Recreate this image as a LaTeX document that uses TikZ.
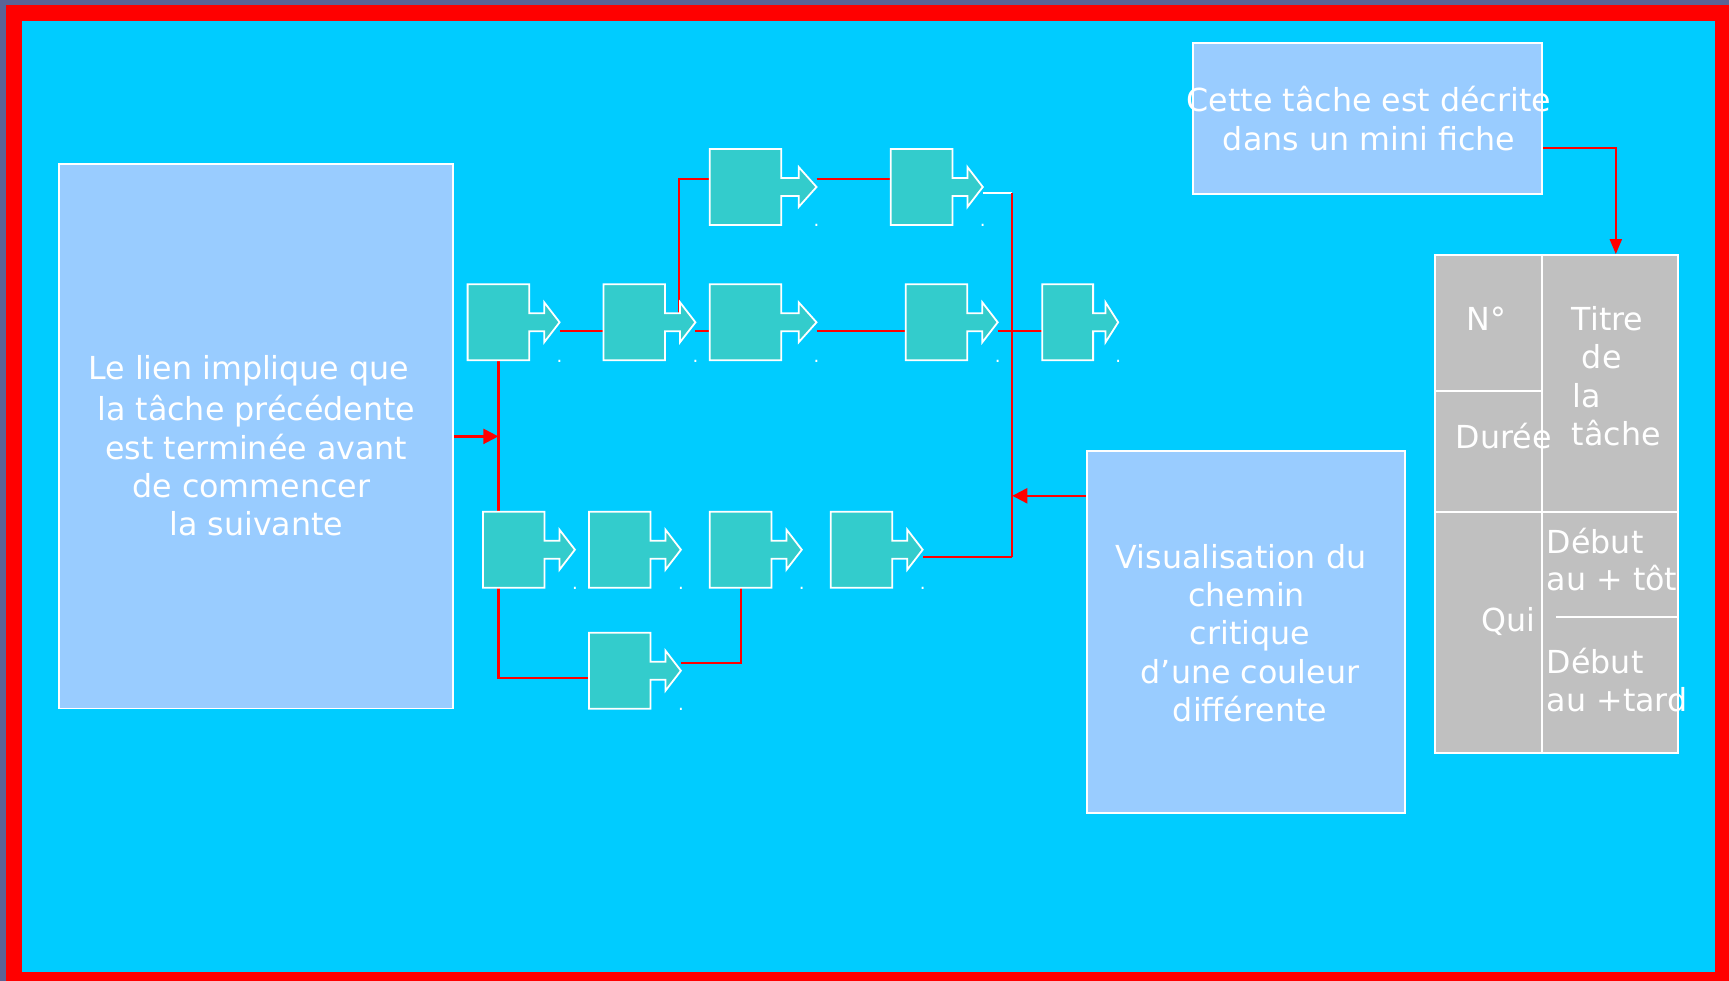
\documentclass[tikz,border=0pt]{standalone}
\usepackage{fontspec}
\setmainfont{DejaVu Sans}
\usetikzlibrary{arrows.meta,calc}
\definecolor{bgcyan}{HTML}{00CCFF}
\definecolor{boxblue}{HTML}{99CCFF}
\definecolor{taskteal}{HTML}{33CCCC}
\definecolor{tgray}{HTML}{C0C0C0}
\definecolor{outerc}{HTML}{5A6496}
\definecolor{frred}{HTML}{FF0000}
\pgfdeclarelayer{back}
\pgfdeclarelayer{bg}
\pgfsetlayers{back,bg,main}
% task shape: name, left x, top y, horizontal scale
\newcommand\mktask[4]{%
  \pgfmathsetmacro\tw{61.6*#4}%
  \pgfmathsetmacro\ts{15*#4}%
  \pgfmathsetmacro\th{15.4*#4}%
  \draw[taskshape] (#2,#3) -- ++(\tw,0) -- ++(0,29) -- ++(\ts,0) -- ++(0,-11)
     -- ++(\th,20) -- ++(-\th,20) -- ++(0,-11) -- ++(-\ts,0) -- ++(0,29)
     -- ++(-\tw,0) -- cycle;
  \node[taskbox, minimum width=\tw pt] (#1) at (#2+\tw/2,#3+38) {};
  \coordinate (#1tip) at (#2+\tw+\ts+\th,#3+38);
  \coordinate (#1hb) at (#2+\tw+\ts,#3+29);
  \node[dotlbl] (#1dot) at (#2+\tw+\ts+\th,#3+77.8) {.};
}
\begin{document}
\begin{tikzpicture}[x=1pt,y=-1pt,
  conn/.style={draw=frred, line width=2.2pt},
  wconn/.style={draw=white, line width=2pt},
  redtip/.style={-{Triangle[length=15pt,width=15pt]}},
  redtipn/.style={-{Triangle[length=15pt,width=12pt]}},
  infobox/.style={draw=white, fill=boxblue, line width=1.8pt, inner sep=0, rectangle},
  taskshape/.style={draw=white, fill=taskteal, line width=1.8pt, line join=miter},
  taskbox/.style={rectangle, inner sep=0, minimum height=76pt},
  txt/.style={text=white, inner sep=0, anchor=base, font=\fontsize{31.7pt}{38.3pt}\selectfont},
  txtl/.style={txt, anchor=base west},
  dotlbl/.style={text=white, inner sep=0, anchor=base, font=\fontsize{18pt}{18pt}\selectfont},
  gridline/.style={draw=white, line width=1.8pt}
]
\useasboundingbox (0,0) rectangle (1729,981);
\begin{pgfonlayer}{back}
  \fill[outerc] (0,0) rectangle (1729,981);
  \fill[frred] (6,5) rectangle (1729,981);
  \fill[bgcyan] (22,21) rectangle (1715,972);
\end{pgfonlayer}

% explanatory boxes
\node[infobox, minimum width=394pt, minimum height=544.2pt] (lbox) at (256.3,436.4) {};
\node[txt] (ltext) at (256.3,379.3) {\begin{tabular}[t]{@{}c@{}}Le lien implique que\kern15pt\\[3.4pt]
  la tâche précédente\\ est terminée avant\\ de commencer\kern10pt\\ la suivante\end{tabular}};

\node[infobox, minimum width=349pt, minimum height=150.7pt] (cette) at (1367.8,118.65) {};
\node[txt, font=\fontsize{31.7pt}{39pt}\selectfont] (ctext) at (1369,111.7) {\begin{tabular}[t]{@{}c@{}}Cette tâche est décrite\\ dans un mini fiche\end{tabular}};

\node[infobox, minimum width=317.7pt, minimum height=362.6pt] (vis) at (1246.15,632) {};
\node[txt] (vtext) at (1250,568.3) {\begin{tabular}[t]{@{}c@{}}Visualisation du\kern18pt\\ chemin\kern7pt\\ critique\\ d’une couleur\\ différente\end{tabular}};

% mini fiche table
\node[rectangle, draw=white, fill=tgray, line width=1.8pt, inner sep=0,
      minimum width=242.7pt, minimum height=498.3pt] (tbl) at (1556.35,504.15) {};
\draw[gridline] (1541.7,255) -- (1541.7,753.3);
\draw[gridline] (1435,391) -- (1541.7,391);
\draw[gridline] (1435,511.7) -- (1677.7,511.7);
\draw[gridline] (1556,617.3) -- (1677.7,617.3);
\node[txtl] (tno) at (1466.7,330.7) {N°};
\node[txtl] (ttitre) at (1571.7,330.7) {\begin{tabular}[t]{@{}l@{}}Titre\\\kern10pt de\\\kern1pt la\\tâche\end{tabular}};
\node[txtl] (tduree) at (1455.7,448.3) {Durée};
\node[txtl] (tqui) at (1481.7,631.7) {Qui};
\node[txtl, font=\fontsize{31.7pt}{37.4pt}\selectfont] (ttot) at (1546.7,553.3) {\begin{tabular}[t]{@{}l@{}}Début\\au + tôt\end{tabular}};
\node[txtl] (ttard) at (1546.7,673.3) {\begin{tabular}[t]{@{}l@{}}Début\\au +tard\end{tabular}};

% tasks
\mktask{A1}{709.8}{149}{1.16}
\mktask{A2}{890.8}{149}{1}
\mktask{B1}{467.6}{284.3}{1}
\mktask{B2}{603.4}{284.3}{1}
\mktask{B3}{709.8}{284.3}{1.16}
\mktask{B4}{905.7}{284.3}{1}
\mktask{B5}{1042.3}{284.3}{0.825}
\mktask{C1}{482.9}{511.7}{1}
\mktask{C2}{588.9}{511.7}{1}
\mktask{C3}{709.8}{511.7}{1}
\mktask{C4}{830.7}{511.7}{1}
\mktask{D1}{588.9}{632.7}{1}

\coordinate (J1) at (1012.3,193.3);
\coordinate (J2) at (1012.3,557.3);
\coordinate (cout) at ([yshift=-29.6pt]cette.east);
\coordinate (tin) at ([xshift=181.7pt]tbl.north west);
\coordinate (vin) at ([yshift=-46pt]vis.north west);

\begin{pgfonlayer}{bg}
  % row B
  \draw[conn] ([yshift=-8.4pt]B1tip) -- ([yshift=-8.4pt]B2.west);
  \draw[conn] ([yshift=-8.4pt]B2tip) -- ([yshift=-8.4pt]B3.west);
  \draw[conn] ([yshift=-8.4pt]B3tip) -- ([yshift=-8.4pt]B4.west);
  \draw[conn] ([yshift=-8.4pt]B4tip) -- ([yshift=-8.4pt]B5.west);
  % branch to row A
  \draw[conn] ([xshift=-1pt]B2hb) |- ([yshift=8pt]A1.west);
  \draw[conn] ([yshift=8pt]A1tip) -- ([yshift=8pt]A2.west);
  \draw[wconn] ([yshift=-6.3pt]A2tip) -- (J1);
  \draw[conn] (J1) -- (J2);
  \draw[conn] (J2) -- ([yshift=-7.6pt]C4tip);
  % left branch
  \draw[conn] (B1.south) |- ([yshift=-7.6pt]D1.west);
  \draw[conn] ([yshift=8pt]D1tip) -| (C3.south);
  % callout arrows
  \draw[conn, redtip] (lbox.east) -- (lbox.east -| B1.south);
  \draw[conn, redtip] (vin) -- (vin -| J1);
  \draw[conn, redtipn] (cout) -| (tin);
\end{pgfonlayer}
\end{tikzpicture}
\end{document}
